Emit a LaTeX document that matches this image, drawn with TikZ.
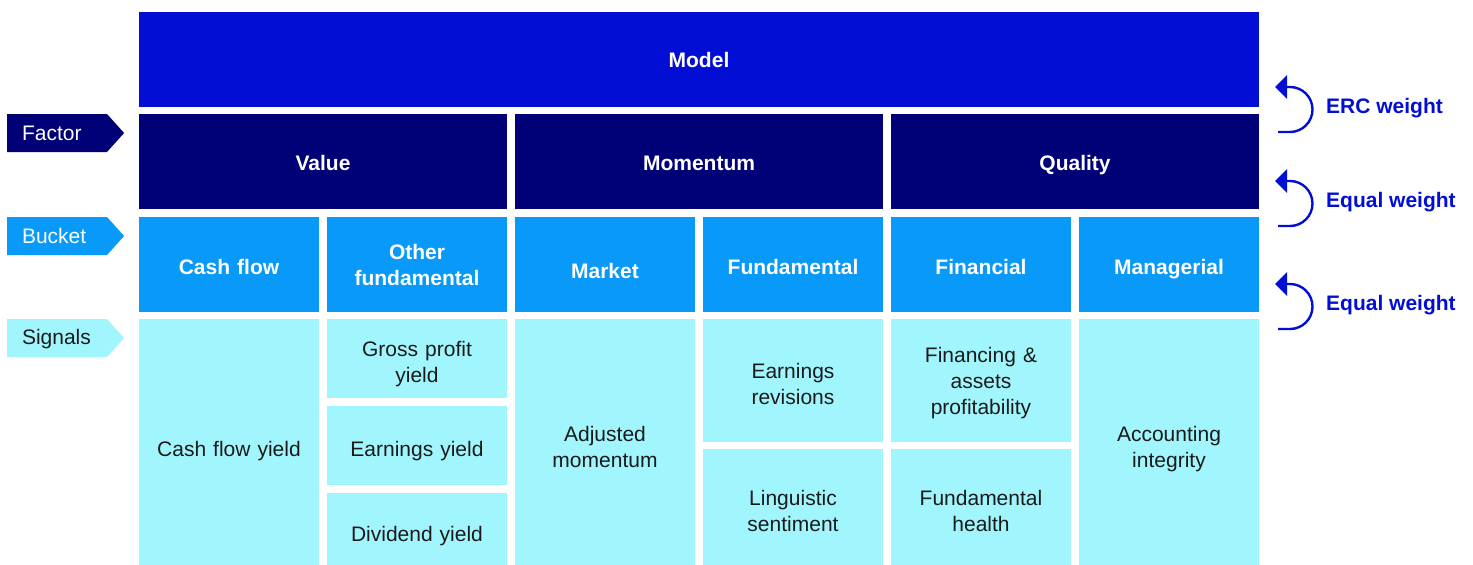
\documentclass[tikz,border=0pt]{standalone}
\usepackage{fontspec}
\setmainfont{Liberation Sans}
\usepackage{tikz}
\usetikzlibrary{arrows.meta, positioning, shapes.symbols}
\definecolor{modelcolor}{RGB}{3, 14, 212}
\definecolor{factorcolor}{RGB}{0, 0, 119}
\definecolor{bucketcolor}{RGB}{8, 153, 249}
\definecolor{signalcolor}{RGB}{161, 246, 254}
\definecolor{signaltext}{RGB}{26, 26, 26}
% strut of given height and depth (pt) to fix vertical placement of text
\newcommand{\textstrut}[2]{\rule[-#2pt]{0pt}{\dimexpr #1pt + #2pt\relax}}
\def\liftheight{26}
\begin{document}
\begin{tikzpicture}[
    x=1pt, y=-1pt,
    lift/.store in=\liftheight,
    box/.style={inner sep=0pt, outer sep=0pt, anchor=north west, text width=170, align=center, font=\fontsize{21}{26}\selectfont,
        execute at begin node={\textstrut{\liftheight}{0}}, execute at end node={\textstrut{0}{5}}},
    modelbox/.style={box, lift=21, fill=modelcolor, text=white, minimum width=1120, minimum height=95, font=\fontsize{21}{26}\selectfont\bfseries},
    factorbox/.style={box, lift=22, fill=factorcolor, text=white, minimum width=368, minimum height=95, font=\fontsize{21}{26}\selectfont\bfseries},
    bucketbox/.style={box, lift=25, fill=bucketcolor, text=white, minimum width=180, minimum height=95, font=\fontsize{21}{26}\selectfont\bfseries},
    signalbox/.style={box, lift=26, fill=signalcolor, text=signaltext, minimum width=180},
    strut/.style 2 args={execute at begin node={\textstrut{#1}{#2}}, execute at end node={\textstrut{#1}{#2}}},
    tag/.style={signal, signal to=east, signal pointer angle=96, strut={18}{3}, anchor=north west, minimum height=38, minimum width=113, text width=70, align=left, inner xsep=15, inner ysep=0, outer sep=0, font=\fontsize{21}{26}\selectfont},
    weight/.style={anchor=west, strut={18}{3}, inner xsep=0, text=modelcolor, font=\fontsize{21}{26}\selectfont\bfseries},
    weightarrow/.style={draw=modelcolor, line width=2.4pt, -{Triangle[length=12pt, width=23pt]}}
]
    \useasboundingbox (0,0) rectangle (1473,565);

    % Model
    \node[modelbox] (model) at (139,12) {Model};

    % Factors
    \node[factorbox] (value) at (139,114) {Value};
    \node[factorbox] (momentum) at (515,114) {Momentum};
    \node[factorbox] (quality) at (891,114) {Quality};

    % Buckets
    \node[bucketbox] (cashflow) at (139,217) {Cash flow};
    \node[bucketbox, lift=21] (otherfund) at (327,217) {Other\\fundamental};
    \node[bucketbox, lift=32] (market) at (515,217) {Market};
    \node[bucketbox] (fundamental) at (703,217) {Fundamental};
    \node[bucketbox] (financial) at (891,217) {Financial};
    \node[bucketbox] (managerial) at (1079,217) {Managerial};

    % Signals
    \node[signalbox, minimum height=253] (cfyield) at (139,319) {Cash flow yield};
    \node[signalbox, minimum height=79] (gpyield) at (327,319) {Gross profit\\yield};
    \node[signalbox, minimum height=79] (eyield) at (327,406) {Earnings yield};
    \node[signalbox, minimum height=79, lift=23] (dyield) at (327,493) {Dividend yield};
    \node[signalbox, minimum height=253, lift=23] (adjmom) at (515,319) {Adjusted\\momentum};
    \node[signalbox, minimum height=123] (erev) at (703,319) {Earnings\\revisions};
    \node[signalbox, minimum height=123, lift=20] (lingsent) at (703,449) {Linguistic\\sentiment};
    \node[signalbox, minimum height=123, lift=20] (finprof) at (891,319) {Financing \&\\assets\\profitability};
    \node[signalbox, minimum height=123, lift=20] (fundhealth) at (891,449) {Fundamental\\health};
    \node[signalbox, minimum height=253, lift=23] (acctint) at (1079,319) {Accounting\\integrity};

    % Level tags
    \node[tag, fill=factorcolor, text=white] (factortag) at (7,114) {Factor};
    \node[tag, fill=bucketcolor, text=white] (buckettag) at (7,217) {Bucket};
    \node[tag, fill=signalcolor, text=signaltext] (signaltag) at (7,319) {Signals};

    % Weights
    \coordinate (ercarr) at (1278,132);
    \coordinate (eqarr1) at (1278,226);
    \coordinate (eqarr2) at (1278,329);
    \draw[weightarrow] (ercarr) -- ++(12,0) arc (90:-90:22.5) -- ++(-15,0);
    \draw[weightarrow] (eqarr1) -- ++(12,0) arc (90:-90:22.5) -- ++(-15,0);
    \draw[weightarrow] (eqarr2) -- ++(12,0) arc (90:-90:22.5) -- ++(-15,0);
    \node[weight] (ercw) at (1326,107) {ERC weight};
    \node[weight] (eqw1) at (1326,201) {Equal weight};
    \node[weight] (eqw2) at (1326,304) {Equal weight};

\end{tikzpicture}
\end{document}
